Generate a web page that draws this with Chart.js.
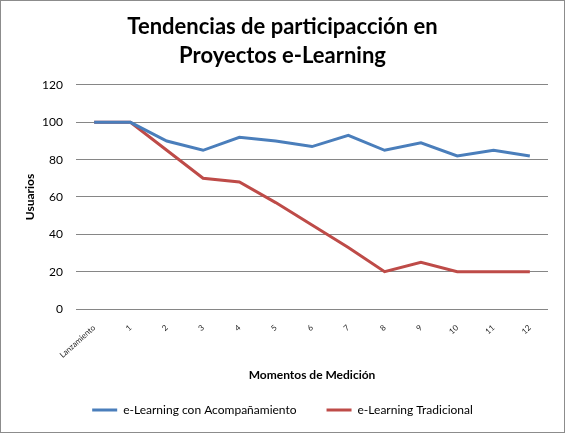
<!DOCTYPE html>
<html>
<head>
<meta charset="utf-8">
<script src="https://cdn.jsdelivr.net/npm/chart.js@4.4.0/dist/chart.umd.min.js"></script>
<style>
    html, body { margin: 0; padding: 0; background: #fff; }
    #wrap {
        width: 565px; height: 433px; position: relative;
        box-sizing: border-box; border: 1px solid #8c8c8c; background: #fff;
    }
    canvas { position: absolute; left: 0; top: 0; }
</style>
</head>
<body>
<div id="wrap"><canvas id="chart" width="563" height="431"></canvas></div>
<script>
// Chart data
const momentos = ['Lanzamiento', '1', '2', '3', '4', '5', '6', '7', '8', '9', '10', '11', '12'];
const conAcompanamiento = [100, 100, 90, 85, 92, 90, 87, 93, 85, 89, 82, 85, 82];
const tradicional = [100, 100, 85, 70, 68, 57, 45, 33, 20, 25, 20, 20, 20];
const yTicks = [0, 20, 40, 60, 80, 100, 120];

const FONT = "Lato, 'Open Sans', 'DejaVu Sans', sans-serif";
const BLUE = '#4a7ebb';
const RED = '#be4b48';

document.addEventListener('DOMContentLoaded', function() {
    const ctx = document.getElementById('chart').getContext('2d');

    new Chart(ctx, {
        type: 'line',
        data: {
            labels: momentos,
            datasets: [{
                label: 'e-Learning con Acompañamiento',
                data: conAcompanamiento,
                borderColor: BLUE,
                backgroundColor: BLUE,
                borderWidth: 3,
                pointRadius: 0,
                tension: 0
            }, {
                label: 'e-Learning Tradicional',
                data: tradicional,
                borderColor: RED,
                backgroundColor: RED,
                borderWidth: 3,
                pointRadius: 0,
                tension: 0
            }]
        },
        options: {
            responsive: false,
            animation: false,
            layout: {
                padding: { left: 16, right: 16, top: 0, bottom: 6 }
            },
            plugins: {
                title: {
                    display: true,
                    text: ['Tendencias de participacción en', 'Proyectos e-Learning'],
                    color: '#000',
                    font: { family: FONT, size: 22, weight: 'bold', lineHeight: 1.34 },
                    padding: { top: 11, bottom: 14 }
                },
                legend: {
                    position: 'bottom',
                    labels: {
                        usePointStyle: true,
                        pointStyle: 'line',
                        pointStyleWidth: 25,
                        padding: 30,
                        color: '#000',
                        font: { family: FONT, size: 12 }
                    }
                },
                tooltip: { enabled: false }
            },
            scales: {
                x: {
                    offset: true,
                    grid: { display: false },
                    border: { display: false },
                    afterFit: function(scale) {
                        scale.height = 65;
                    },
                    ticks: {
                        color: '#222',
                        font: { family: FONT, size: 8 },
                        minRotation: 42,
                        maxRotation: 42,
                        padding: 6
                    },
                    title: {
                        display: true,
                        text: 'Momentos de Medición',
                        color: '#000',
                        font: { family: FONT, size: 12, weight: 'bold' },
                        // the legend needs its big padding, so pull the title down into it
                        padding: { top: 12, bottom: -8 }
                    }
                },
                y: {
                    min: 0,
                    max: 120,
                    afterBuildTicks: function(scale) {
                        scale.ticks = yTicks.map(v => ({ value: v }));
                    },
                    afterFit: function(scale) {
                        scale.width = 59;
                    },
                    grid: {
                        color: '#868686',
                        lineWidth: 1,
                        drawTicks: false
                    },
                    border: { display: false },
                    ticks: {
                        color: '#000',
                        font: { family: FONT, size: 12 },
                        padding: 13
                    },
                    title: {
                        display: true,
                        text: 'Usuarios',
                        color: '#000',
                        font: { family: FONT, size: 12, weight: 'bold' },
                        padding: { top: 6, bottom: 0 }
                    }
                }
            }
        }
    });
});
</script>
</body>
</html>
